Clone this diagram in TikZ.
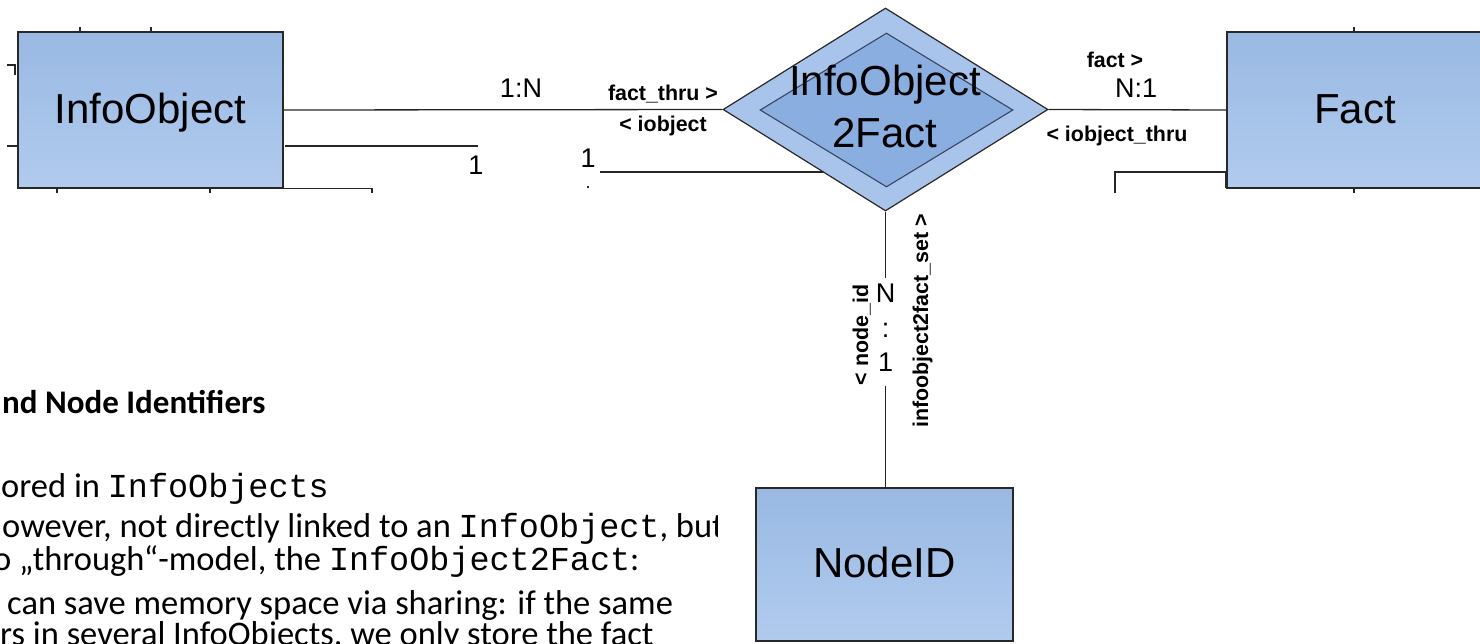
\documentclass[tikz,border=0pt]{standalone}
\usepackage{fontspec}
\setmainfont{Carlito}
\newfontfamily\arialf{Liberation Sans}
\newfontfamily\courf[Scale=0.97]{Liberation Mono}
\usetikzlibrary{shapes.geometric}
\definecolor{boxtop}{RGB}{153,185,227}
\definecolor{boxbot}{RGB}{177,203,238}
\definecolor{dmout}{RGB}{169,196,235}
\definecolor{dmin}{RGB}{139,174,225}
\definecolor{edgec}{RGB}{40,40,40}
\definecolor{inedge}{RGB}{55,70,100}
\tikzset{
  entity/.style={rectangle, draw=edgec, line width=1.6pt, top color=boxtop, bottom color=boxbot,
    inner sep=0pt, font=\arialf\fontsize{42}{50}\selectfont, text height=30pt, text depth=4pt},
  conn/.style={draw=black!85, line width=1.3pt},
  role/.style={font=\arialf\bfseries\fontsize{21.4}{24}\selectfont, inner sep=0pt, anchor=base},
  cardl/.style={font=\arialf\fontsize{27}{34.5}\selectfont, inner sep=0pt, anchor=base},
  bodyl/.style={font=\fontsize{34.5}{40}\selectfont, inner sep=0pt, anchor=base west},
}
\begin{document}
\begin{tikzpicture}[x=1pt,y=-1pt]
\useasboundingbox (0,0) rectangle (1480,643);
\clip (0,0) rectangle (1480,643);

% line running under the diamond
\coordinate (s1a) at (600,172);
\coordinate (s1b) at (840,172);
\draw[conn] (s1a) -- (s1b);

% entities
\node[entity, minimum width=265pt, minimum height=156pt] (io) at (150.5,110) {InfoObject};
\node[entity, minimum width=256pt, minimum height=156pt] (fact) at (1355,110) {Fact};
\node[entity, minimum width=257pt, minimum height=153pt] (nid) at (884.5,564.5) {NodeID};

% relationship
\node[diamond, draw=edgec, line width=1.2pt, fill=dmout, minimum width=325pt, minimum height=203pt, inner sep=0pt] (rel) at (885.5,109.5) {};
\node[diamond, draw=inedge, line width=1.1pt, fill=dmin, minimum width=253pt, minimum height=154pt, inner sep=0pt] (relin) at (886.5,110) {};
\node[font=\arialf\fontsize{42}{52}\selectfont, align=center, inner sep=0pt] (relt) at (885,106.7) {InfoObject\\2Fact};

% cardinality on vertical connector
\node[cardl, anchor=center, align=center, inner ysep=9pt] (cv) at (885.5,328) {N\\:\\1};

% main connectors
\draw[conn] (io.east) -- (rel.west);
\draw[conn] (rel.east) -- (fact.west);
\draw[conn, shorten >=-3pt] (rel.south) -- (rel.south |- cv.north);
\draw[conn, shorten <=5pt] (rel.south |- cv.south) -- (rel.south |- nid.north);

% stubs of other connectors
\coordinate (t1) at (80,27);   \draw[conn] (t1) -- (t1 |- io.north);
\coordinate (t2) at (151,27);  \draw[conn] (t2) -- (t2 |- io.north);
\coordinate (t3) at (57,193);  \draw[conn] (t3) -- (t3 |- io.south);
\coordinate (t4) at (210,193); \draw[conn] (t4) -- (t4 |- io.south);
\coordinate (b1) at (7,65);    \draw[conn] (b1) -- (15,65) -- (15,75);
\coordinate (b2) at (7,146);   \draw[conn] (b2) -- (b2 -| io.west);
\coordinate (b3) at (372,193); \draw[conn] (io.south east) -- (b3 |- io.south) -- (b3);
\coordinate (b4) at (478,146); \draw[conn] (285,146) -- (b4);
\coordinate (f1) at (1354,27);  \draw[conn] (f1) -- (f1 |- fact.north);
\coordinate (f2) at (1354,193); \draw[conn] (f2) -- (f2 |- fact.south);
\coordinate (f3) at (1115,193); \coordinate (f4) at (1115,172);
\draw[conn] (f3) -- (f4) -- (f4 -| fact.west);
\draw[line width=3pt, edgec] (1226,172) -- (1226,188);

% labels
\node[cardl] (c1) at (521,97) {1:N};
\node[role] (r1) at (663,100) {fact\_thru >};
\node[role] (r2) at (663,131) {< iobject};
\node[cardl] (c2) at (476,174) {1};
\node[cardl] (c3) at (588,167) {1};
\node[cardl, font=\arialf\fontsize{18}{20}\selectfont] (c4) at (588,188) {.};
\node[role] (r3) at (1115,67) {fact >};
\node[cardl] (c5) at (1136,97) {N:1};
\node[role] (r4) at (1117,141) {< iobject\_thru};
\node[role, rotate=90] (r5) at (868,335) {< node\_id};
\node[role, rotate=90] (r6) at (928,321) {infoobject2fact\_set >};

% slide text
\begin{scope}
\clip (-10,380) rectangle (717,643);
\node[bodyl, font=\bfseries\fontsize{33}{40}\selectfont] (h) at (2,413) {nd Node Identifiers};
\node[bodyl] (l1) at (1,497) {ored in {\courf InfoObjects}};
\node[bodyl] (l2) at (2,537) {owever, not directly linked to an {\courf InfoObject}, but};
\node[bodyl] (l3) at (-7,570) {o „through“-model, the {\courf InfoObject2Fact}:};
\node[bodyl] (l4) at (7,614) {can save memory space via sharing: if the same};
\node[bodyl] (l5) at (0,645) {rs in several InfoObjects, we only store the fact};
\end{scope}
\end{tikzpicture}
\end{document}
